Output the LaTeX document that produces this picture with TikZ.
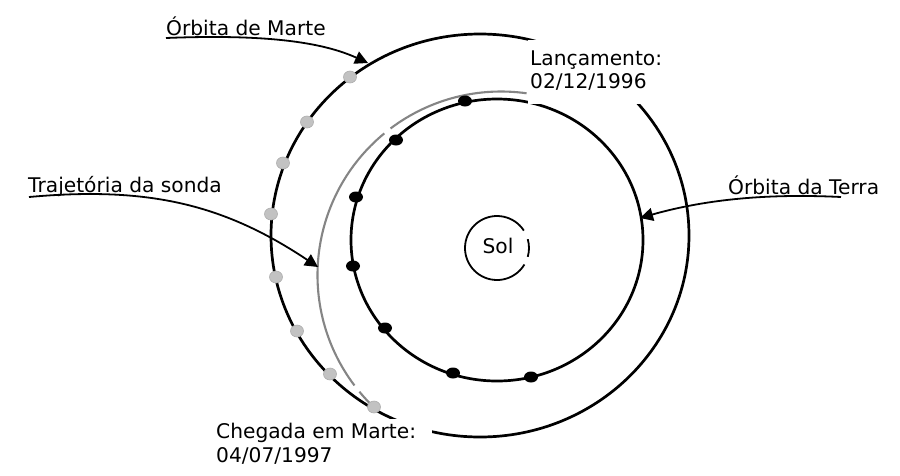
\documentclass[tikz,border=0pt]{standalone}
\usepackage{fontspec}
\setmainfont{DejaVu Sans}
\usetikzlibrary{arrows.meta,shapes.geometric}
\begin{document}
\begin{tikzpicture}[x=1pt,y=-1pt,
  orbit/.style={line width=2.7pt,draw=black},
  traj/.style={line width=2.1pt,draw=black!48},
  sunline/.style={line width=1.8pt,draw=black},
  bdot/.style={ellipse,fill=black,minimum width=14pt,minimum height=11pt,inner sep=0pt},
  gdot/.style={ellipse,fill=black!24,draw=black!32,line width=0.6pt,minimum width=13pt,minimum height=12pt,inner sep=0pt},
  lbl/.style={font=\fontsize{20.2pt}{24pt}\selectfont,inner sep=0pt,text=black},
  arr/.style={line width=1.8pt,-{Triangle[length=13pt,width=13pt]}},
  cover/.style={fill=white}]
\useasboundingbox (0,0) rectangle (900,475);
\fill[white] (0,0) rectangle (900,475);
% centres
\coordinate (mc) at (480,235.5);
\coordinate (ec) at (497,240);
\coordinate (tc) at (501,275);
\coordinate (sc) at (497,248);
% orbits
\draw[orbit] (mc) ellipse [x radius=209, y radius=201.5];
\draw[orbit] (ec) ellipse [x radius=146, y radius=141];
% trajectory of the probe
\draw[traj] (tc) ++(-82:183.5) arc[start angle=-82, end angle=-127, radius=183.5];
\draw[traj] (tc) ++(-129.5:183.5) arc[start angle=-129.5, end angle=-217, radius=183.5];
\draw[traj] (tc) ++(-219.5:183.5) arc[start angle=-219.5, end angle=-225, radius=183.5];
% sun
\draw[sunline] (sc) ++(-33:32) arc[start angle=-33, end angle=-329, radius=32];
\draw[sunline] (sc) ++(16:32) arc[start angle=16, end angle=-16, radius=32];
\node[lbl,anchor=base] (sol) at (498,253) {Sol};
% Earth positions
\node[bdot] (e1) at (465,101) {};
\node[bdot] (e2) at (396,140) {};
\node[bdot] (e3) at (356,197) {};
\node[bdot] (e4) at (353,266) {};
\node[bdot] (e5) at (385,328) {};
\node[bdot] (e6) at (453,373) {};
\node[bdot] (e7) at (531,377) {};
% Mars positions
\node[gdot] (m1) at (350,77) {};
\node[gdot] (m2) at (307,122) {};
\node[gdot] (m3) at (283,163) {};
\node[gdot] (m4) at (271,214) {};
\node[gdot] (m5) at (276,277) {};
\node[gdot] (m6) at (297,331) {};
\node[gdot] (m7) at (330,374) {};
\node[gdot] (m8) at (374,407) {};
% label backgrounds
\fill[cover] (528,40) rectangle (660,104);
\fill[cover] (205,419) rectangle (432,475);
% labels
\node[lbl,anchor=base west] (lmarte) at (166,35) {Órbita de Marte};
\node[lbl,anchor=base west] (llanc) at (530,65) {Lançamento:};
\node[lbl,anchor=base west] (llancd) at (530,88) {02/12/1996};
\node[lbl,anchor=base west] (ltraj) at (28,192) {Trajetória da sonda};
\node[lbl,anchor=base west] (lterra) at (728,194) {Órbita da Terra};
\node[lbl,anchor=base west] (lcheg) at (216,438) {Chegada em Marte:};
\node[lbl,anchor=base west] (lchegd) at (216,462) {04/07/1997};
% connectors
\coordinate (aMs) at (166,38);
\coordinate (aMt) at (368,63);
\coordinate (aTs) at (29,197);
\coordinate (aTt) at (318,267);
\coordinate (aEs) at (841,197);
\coordinate (aEt) at (640,218);
\draw[arr] (aMs) .. controls (265,34) and (322,42) .. (aMt);
\draw[arr] (aTs) .. controls (150,186) and (225,205) .. (aTt);
\draw[arr] (aEs) .. controls (760,193) and (700,201) .. (aEt);
\end{tikzpicture}
\end{document}
